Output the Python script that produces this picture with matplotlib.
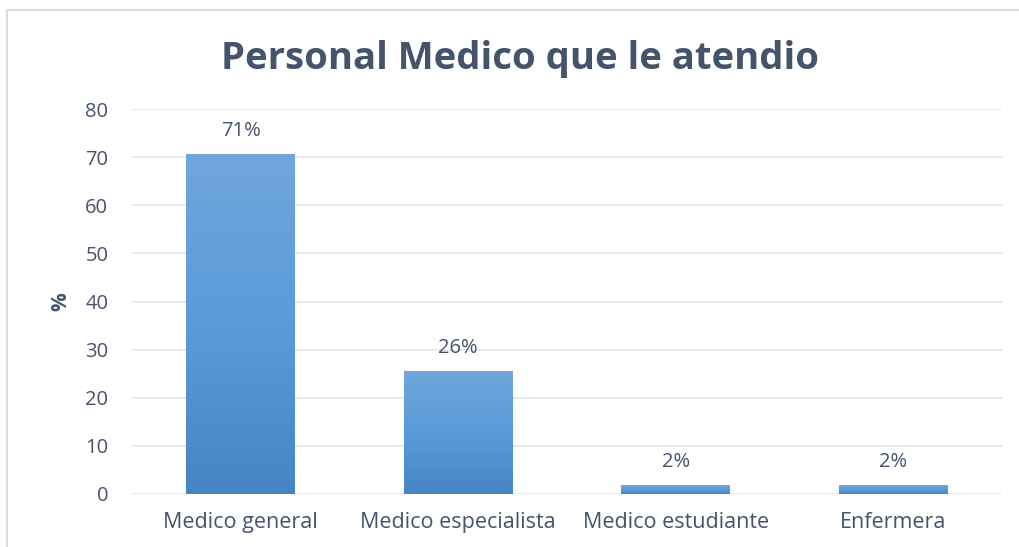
import numpy as np
import matplotlib.pyplot as plt
from matplotlib.patches import Rectangle
from matplotlib.colors import LinearSegmentedColormap

# data
categories = ["Medico general", "Medico especialista", "Medico estudiante", "Enfermera"]
values = [70.6, 25.6, 1.8, 1.8]
labels = ["71%", "26%", "2%", "2%"]
y_ticks = [0, 10, 20, 30, 40, 50, 60, 70, 80]

plt.rcParams['font.family'] = ['Open Sans', 'DejaVu Sans']
text_color = '#44546A'

fig = plt.figure(figsize=(10.19, 5.47), dpi=100)
fig.patch.set_facecolor('white')

# outer chart frame (left and top edges only visible)
fig.patches.append(Rectangle((7 / 1019, -0.1), 1.2, 0.1 + 1 - 10 / 547,
                             transform=fig.transFigure, fill=False,
                             edgecolor='#D9DEE7', linewidth=1.6))

ax = fig.add_axes([0.1295, 0.0969, 0.8538, 0.7038])
x = np.arange(len(categories))
bars = ax.bar(x, values, width=0.5, color='#5B9BD5', zorder=2)

# vertical gradient on each bar
grad_cmap = LinearSegmentedColormap.from_list('bargrad', ['#4585C6', '#5A9BDB', '#70A6DB'])
grad = np.linspace(0, 1, 256).reshape(-1, 1)
for b in bars:
    x0, y0 = b.get_x(), b.get_y()
    w, h = b.get_width(), b.get_height()
    im = ax.imshow(grad, cmap=grad_cmap, origin='lower', aspect='auto',
                   extent=(x0, x0 + w, y0, y0 + h), zorder=3)
    im.set_clip_path(b)

for xi, v, lab in zip(x, values, labels):
    ax.text(xi, v + 2.7, lab, ha='center', va='bottom', fontsize=14.5, color=text_color)

ax.set_xlim(-0.5, len(categories) - 0.5)
ax.set_ylim(0, 80)
ax.set_yticks(y_ticks)
ax.set_xticks(x)
ax.set_xticklabels(categories, fontsize=15.5, color=text_color)
ax.tick_params(axis='y', labelsize=14.5, labelcolor=text_color, length=0, pad=17)
ax.tick_params(axis='x', length=0, pad=13)
ax.grid(axis='y', color='#E3E4E8', linewidth=1.2, zorder=0)
ax.set_axisbelow(True)
for s in ax.spines.values():
    s.set_visible(False)

ax.set_ylabel('%', fontsize=15, fontweight='bold', color=text_color, labelpad=10)

fig.text(0.510, 0.893, "Personal Medico que le atendio", ha='center', va='center',
         fontsize=27.5, fontweight='bold', color=text_color)

fig.savefig('out.png', dpi=100, facecolor='white')
